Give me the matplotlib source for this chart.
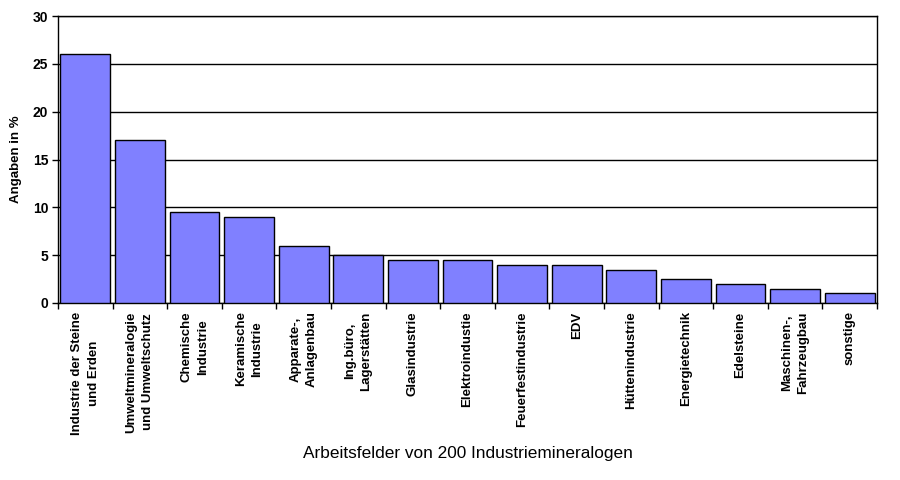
import numpy as np
import matplotlib
matplotlib.use("Agg")
import matplotlib.pyplot as plt

plt.rcParams['font.family'] = ['Liberation Sans', 'DejaVu Sans']

categories = [
    "Industrie der Steine\nund Erden",
    "Umweltmineralogie\nund Umweltschutz",
    "Chemische\nIndustrie",
    "Keramische\nIndustrie",
    "Apparate-,\nAnlagenbau",
    "Ing.büro,\nLagerstätten",
    "Glasindustrie",
    "Elektroindustie",
    "Feuerfestindustrie",
    "EDV",
    "Hüttenindustrie",
    "Energietechnik",
    "Edelsteine",
    "Maschinen-,\nFahrzeugbau",
    "sonstige",
]
values = [26, 17, 9.5, 9, 6, 5, 4.5, 4.5, 4, 4, 3.5, 2.5, 2, 1.5, 1]
yticks = [0, 5, 10, 15, 20, 25, 30]

fig = plt.figure(figsize=(9, 4.8), dpi=100)
ax = fig.add_axes([58/900, 1-303/480, (877-58)/900, (303-16)/480])

x = np.arange(len(values))
ax.set_axisbelow(True)
ax.yaxis.grid(True, color='black', linewidth=1)
ax.bar(x, values, width=0.91, color='#8080ff', edgecolor='black', linewidth=1, zorder=3)

ax.set_xlim(-0.5, len(values) - 0.5)
ax.set_ylim(0, 30)
ax.set_yticks(yticks)
ax.set_yticklabels([str(v) for v in yticks], fontsize=10, fontweight='bold')
ax.tick_params(axis='y', length=4, width=1, pad=3)

ax.set_xticks(x)
ax.set_xticklabels(categories, rotation=90, fontsize=9.5, fontweight='bold',
                   va='top', ha='center', multialignment='center',
                   linespacing=1.5)
ax.tick_params(axis='x', length=0, pad=6)
ax.set_xticks(np.arange(len(values) + 1) - 0.5, minor=True)
ax.tick_params(axis='x', which='minor', length=4, width=1)

for s in ax.spines.values():
    s.set_linewidth(1)
    s.set_color('black')

ax.set_ylabel("Angaben in %", fontsize=9.5, fontweight='bold', labelpad=8)
ax.set_xlabel("Arbeitsfelder von 200 Industriemineralogen", fontsize=12.4, labelpad=8)

fig.savefig("out.png", dpi=100)
